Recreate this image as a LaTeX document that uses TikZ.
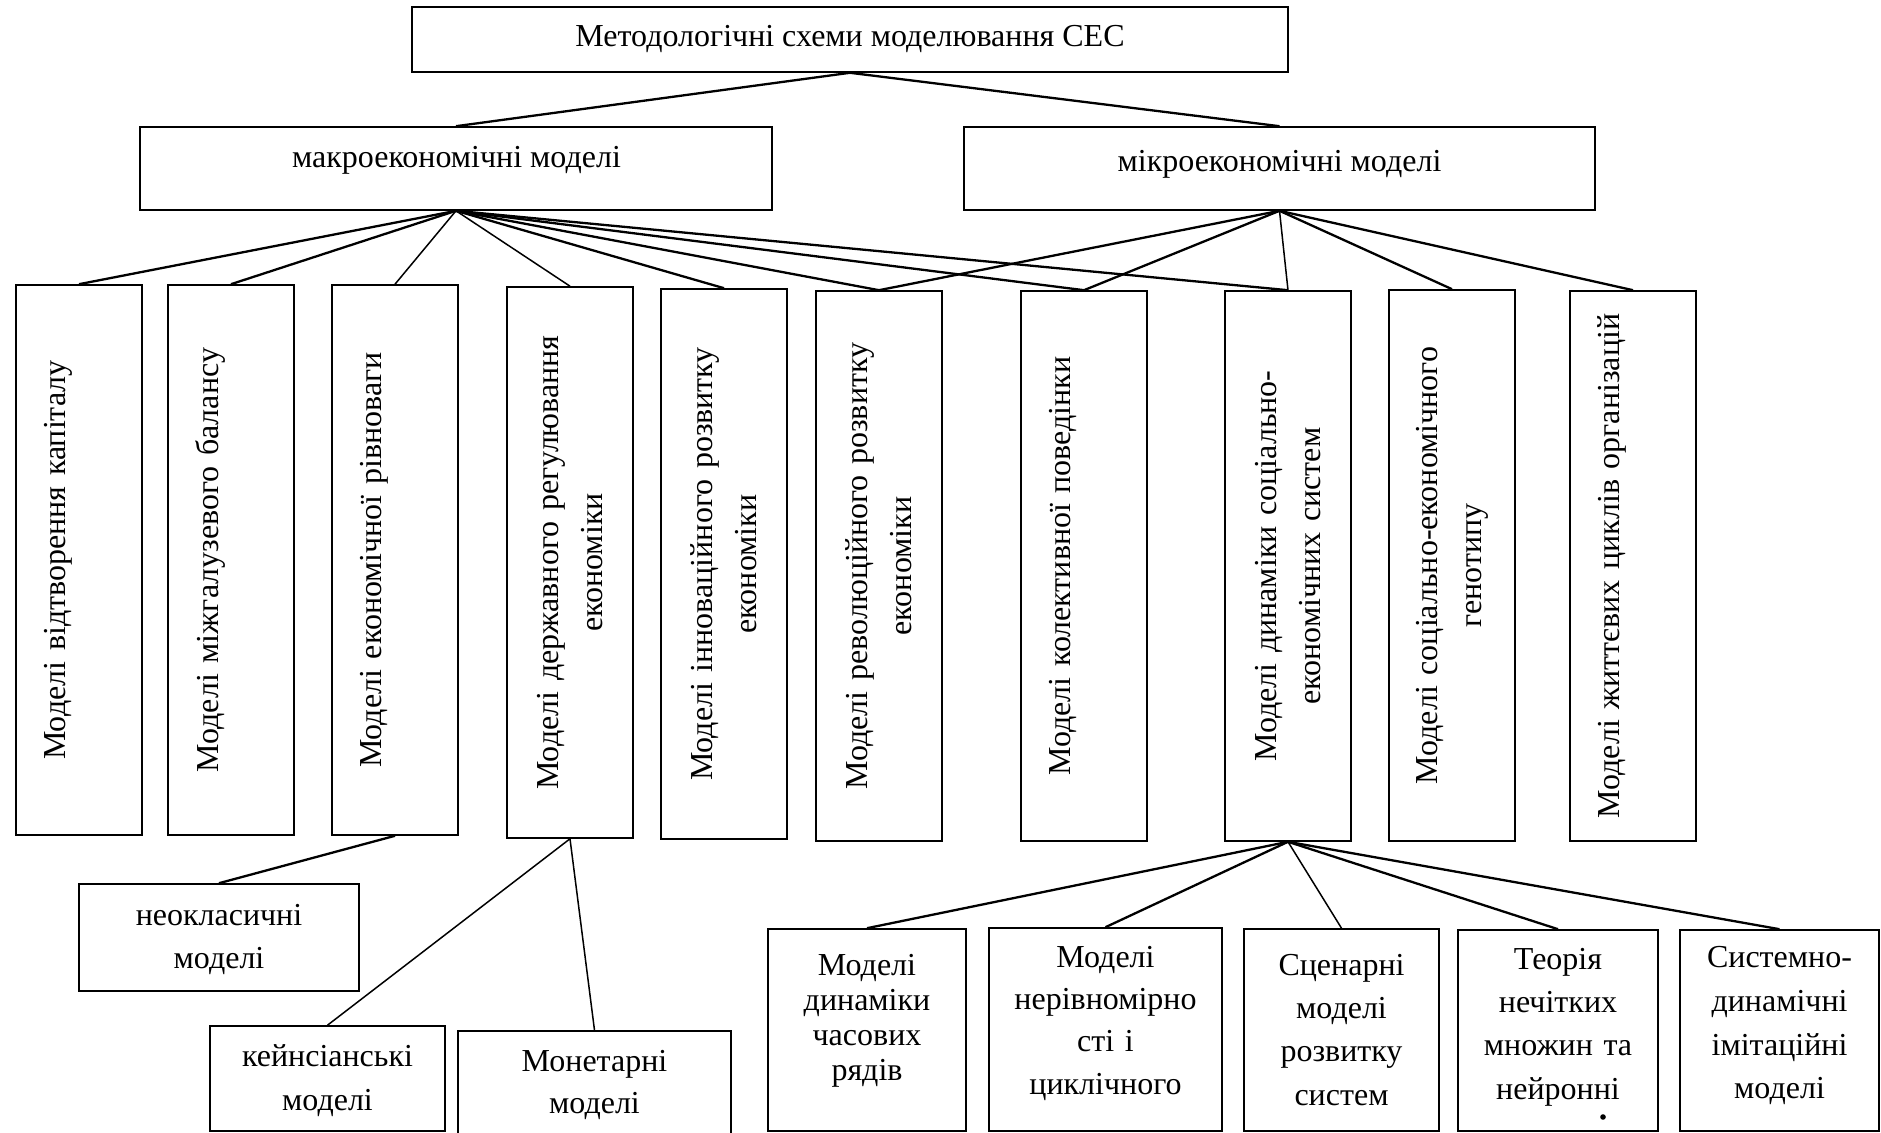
\documentclass[tikz,border=0pt]{standalone}
\usepackage{fontspec}
\setmainfont{Liberation Serif}
\usetikzlibrary{fit}
\begin{document}
\begin{tikzpicture}[x=0.5pt,y=-0.5pt,
  box/.style={draw, line width=0.8pt, inner sep=0pt},
  conn/.style={line width=1.15pt},
  thinconn/.style={line width=0.75pt},
  htxt/.style={inner sep=0pt, anchor=base, font=\fontsize{16}{21.5}\selectfont},
  mtxt/.style={inner sep=0pt, anchor=base, text width=110pt, align=center, font=\fontsize{16}{#1}\selectfont},
  mtxt/.default=21.5pt,
  vtxt/.style={inner sep=0pt, rotate=90, text width=272pt, align=center, font=\fontsize{16}{22}\selectfont}]
\useasboundingbox (0,0) rectangle (1881,1133);
\clip (0,0) rectangle (1881,1133);

% top level
\node[box, fit={(412,7) (1288,72)}] (top) {};
\node[box, fit={(140,127) (772,210)}] (macro) {};
\node[box, fit={(964,127) (1595,210)}] (micro) {};
\node[htxt] (ttop) at (850,46.5) {Методологічні схеми моделювання СЕС};
\node[htxt] (tmacro) at (456.5,167.5) {макроекономічні моделі};
\node[htxt] (tmicro) at (1279.5,171.5) {мікроекономічні моделі};

% vertical boxes
\node[box, fit={(16,285) (142,835)}] (b1) {};
\node[box, fit={(168,285) (294,835)}] (b2) {};
\node[box, fit={(332,285) (458,835)}] (b3) {};
\node[box, fit={(507,287) (633,838)}] (b4) {};
\node[box, fit={(661,289) (787,839)}] (b5) {};
\node[box, fit={(816,291) (942,841)}] (b6) {};
\node[box, fit={(1021,291) (1147,841)}] (b7) {};
\node[box, fit={(1225,291) (1351,841)}] (b8) {};
\node[box, fit={(1389,290) (1515,841)}] (b9) {};
\node[box, fit={(1570,291) (1696,841)}] (b10) {};

\node[vtxt] (t1) at (58,560) {Моделі відтворення капіталу};
\node[vtxt] (t2) at (210,560) {Моделі міжгалузевого балансу};
\node[vtxt] (t3) at (374,560) {Моделі економічної рівноваги};
\node[vtxt] (t4) at (570,562.5) {Моделі державного регулювання\\економіки};
\node[vtxt] (t5) at (724,564) {Моделі інноваційного розвитку\\економіки};
\node[vtxt] (t6) at (879,566) {Моделі революційного розвитку\\економіки};
\node[vtxt] (t7) at (1063,566) {Моделі колективної поведінки};
\node[vtxt] (t8) at (1288,566) {Моделі динаміки соціально-\\економічних систем};
\node[vtxt] (t9) at (1452,565.5) {Моделі соціально-економічного\\генотипу};
\node[vtxt] (t10) at (1612,566) {Моделі життєвих циклів організацій};

% lower boxes
\node[box, fit={(79,884) (359,991)}] (neo) {};
\node[box, fit={(210,1026) (445,1131)}] (keyn) {};
\node[box, fit={(458,1031) (731,1150)}] (monet) {};
\node[box, fit={(768,929) (966,1131)}] (m1) {};
\node[box, fit={(989,928) (1222,1131)}] (m2) {};
\node[box, fit={(1244,929) (1439,1131)}] (m3) {};
\node[box, fit={(1458,930) (1658,1131)}] (m4) {};
\node[box, fit={(1680,930) (1879,1131)}] (m5) {};

\node[mtxt=21.5pt] (tneo) at (219,925) {неокласичні\\моделі};
\node[mtxt=22pt] (tkeyn) at (327.5,1066) {кейнсіанські\\моделі};
\node[mtxt=21pt] (tmonet) at (594.5,1071) {Монетарні\\моделі};
\node[mtxt=17.6pt] (tm1) at (867,975) {Моделі\\динаміки\\часових\\рядів};
\node[mtxt=21.2pt] (tm2) at (1105.5,967) {Моделі\\нерівномірно\\сті і\\циклічного};
\node[mtxt=21.75pt] (tm3) at (1341.5,975) {Сценарні\\моделі\\розвитку\\систем};
\node[mtxt=21.7pt] (tm4) at (1558,969) {Теорія\\нечітких\\множин та\\нейронні};
\node[mtxt=22pt] (tm5) at (1779.5,967) {Системно-\\динамічні\\імітаційні\\моделі};
\node[circle, fill, inner sep=0pt, minimum size=2.8pt] (tdot) at (1603,1117) {};

% connectors
\draw[conn] (top.south) -- (macro.north);
\draw[conn] (top.south) -- (micro.north);
\draw[conn] (macro.south) -- (b1.north);
\draw[conn] (macro.south) -- (b2.north);
\draw[thinconn] (macro.south) -- (b3.north);
\draw[thinconn] (macro.south) -- (b4.north);
\draw[conn] (macro.south) -- (b5.north);
\draw[conn] (macro.south) -- (b6.north);
\draw[conn] (macro.south) -- (b7.north);
\draw[conn] (macro.south) -- (b8.north);
\draw[conn] (micro.south) -- (b6.north);
\draw[conn] (micro.south) -- (b7.north);
\draw[thinconn] (micro.south) -- (b8.north);
\draw[conn] (micro.south) -- (b9.north);
\draw[conn] (micro.south) -- (b10.north);
\draw[conn] (b3.south) -- (neo.north);
\draw[thinconn] (b4.south) -- (keyn.north);
\draw[thinconn] (b4.south) -- (monet.north);
\draw[conn] (b8.south) -- (m1.north);
\draw[conn] (b8.south) -- (m2.north);
\draw[thinconn] (b8.south) -- (m3.north);
\draw[conn] (b8.south) -- (m4.north);
\draw[conn] (b8.south) -- (m5.north);
\end{tikzpicture}
\end{document}
